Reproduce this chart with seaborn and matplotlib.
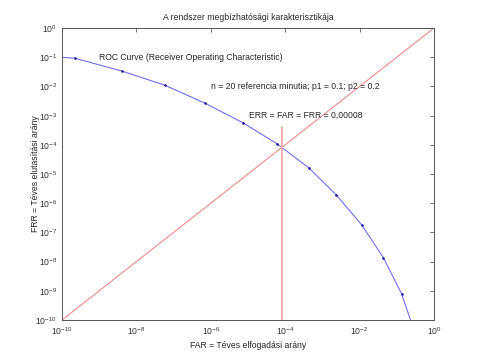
import numpy as np
import pandas as pd
import seaborn as sns
import matplotlib.pyplot as plt
from matplotlib.ticker import LogLocator, NullLocator

# ROC gorbe pontjai (a kepről leolvasva)
roc_far = [1e-10, 2.2e-10, 4.0e-9, 5.9e-8, 6.9e-7, 7.2e-6, 6.0e-5, 4.4e-4,
           2.4e-3, 1.15e-2, 4.4e-2, 1.35e-1, 2.35e-1]
roc_frr = [0.1, 0.093, 0.034, 0.011, 2.7e-3, 5.8e-4, 1.1e-4, 1.6e-5,
           1.9e-6, 1.8e-7, 1.35e-8, 8e-10, 1e-10]

# FAR = FRR egyenes
diag = [1e-10, 1.0]
# ERR jeloles
err_x = [8e-5, 8e-5]
err_y = [1e-10, 4e-4]

x_ticks = [1e-10, 1e-8, 1e-6, 1e-4, 1e-2, 1e0]
y_ticks = [10.0 ** k for k in range(-10, 1)]

sns.set_style("white")
plt.rcParams['font.family'] = ['Liberation Sans', 'DejaVu Sans']
plt.rcParams['mathtext.fontset'] = 'custom'
plt.rcParams['mathtext.rm'] = 'Liberation Sans'

fs = 6.2
fig = plt.figure(figsize=(4.8, 3.6), dpi=100)
ax = fig.add_axes([0.129, 0.111, 0.775, 0.811])
ax.set_xscale('log')
ax.set_yscale('log')

roc = pd.DataFrame({'far': roc_far, 'frr': roc_frr})
sns.lineplot(data=roc, x='far', y='frr', ax=ax, sort=False, estimator=None,
             color='#7070f0', lw=0.8, marker='o', markersize=1.1,
             markerfacecolor='#1a1aa0', markeredgecolor='#1a1aa0',
             markevery=list(range(1, len(roc_far) - 1)))
sns.lineplot(x=diag, y=diag, ax=ax, sort=False, estimator=None, color='#f08a8a', lw=0.8)
sns.lineplot(x=err_x, y=err_y, ax=ax, sort=False, estimator=None, color='#f2b0b0', lw=1.4)

ax.set_xlim(1e-10, 1)
ax.set_ylim(1e-10, 1)
ax.set_xticks(x_ticks)
ax.set_yticks(y_ticks)
ax.xaxis.set_minor_locator(NullLocator())
ax.yaxis.set_minor_locator(LogLocator(base=10, subs=np.arange(2, 10)))
ax.yaxis.set_minor_formatter(plt.NullFormatter())
ax.tick_params(which='both', direction='in', top=True, right=True,
               labelsize=fs, colors='#333333', length=3, width=0.5)
ax.tick_params(which='minor', length=1.5)
for s in ax.spines.values():
    s.set_color('#555555')
    s.set_linewidth(0.7)

ax.set_title('A rendszer megbízhatósági karakterisztikája', fontsize=fs, pad=6)
ax.set_xlabel('FAR = Téves elfogadási arány', fontsize=fs, labelpad=3)
ax.set_ylabel('FRR = Téves elutasítási arány', fontsize=fs)
ax.yaxis.set_label_coords(-0.058, 0.5)

ax.text(1e-9, 0.1, 'ROC Curve (Receiver Operating Characteristic)', fontsize=fs, va='center')
ax.text(1.0e-6, 1.0e-2, 'n = 20 referencia minutia; p1 = 0.1; p2 = 0.2', fontsize=fs, va='center')
ax.text(1.1e-5, 1.0e-3, 'ERR = FAR = FRR = 0,00008', fontsize=fs, va='center')

fig.savefig('out.png', dpi=100)
